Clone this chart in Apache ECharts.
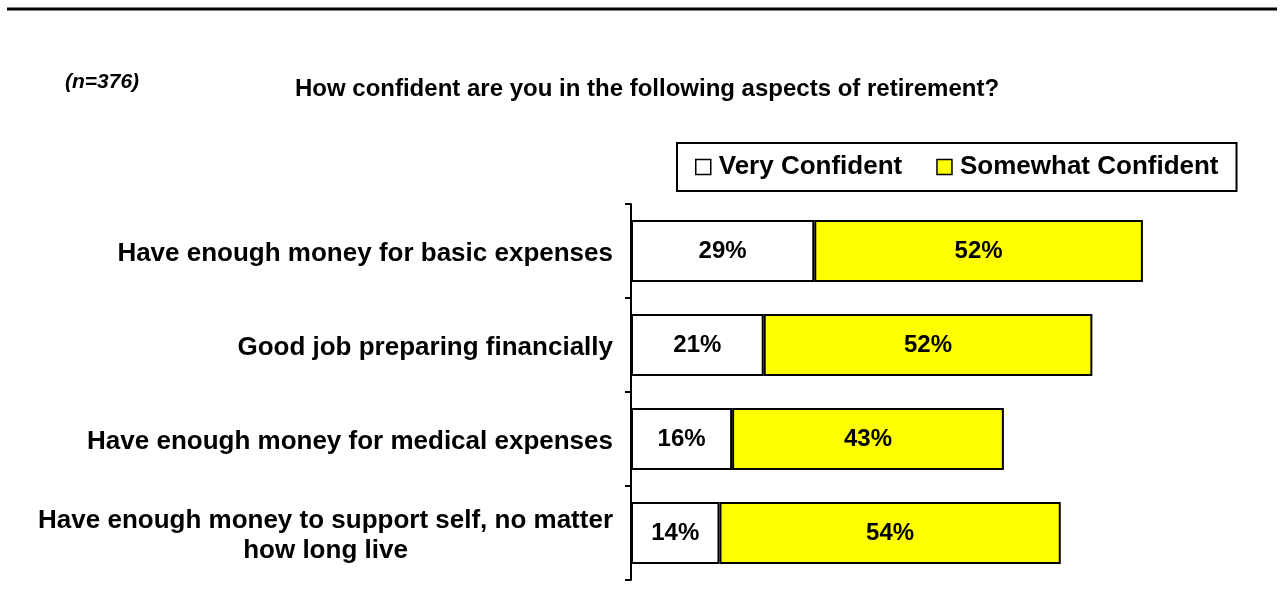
<!DOCTYPE html>
<html>
<head>
<meta charset="utf-8">
<script src="https://cdn.jsdelivr.net/npm/echarts@6/dist/echarts.min.js"></script>
<style>
  html, body { margin: 0; padding: 0; background: #fff; }
  #chart { width: 1286px; height: 615px; }
</style>
</head>
<body>
<div id="chart"></div>
<script>
// Survey question aspects, top to bottom
const categories = [
  'Have enough money for basic expenses',
  'Good job preparing financially',
  'Have enough money for medical expenses',
  'Have enough money to support self, no matter\nhow long live'
];
const seriesNames = ['Very Confident', 'Somewhat Confident'];
const veryConfident = [29, 21, 16, 14];
const somewhatConfident = [52, 52, 43, 54];

const FONT = '"Liberation Sans", Arial, Helvetica, sans-serif';

const chart = echarts.init(document.getElementById('chart'), null, { renderer: 'canvas' });

const barLabel = {
  show: true,
  position: 'inside',
  formatter: p => p.value + '%',
  color: '#000',
  fontFamily: FONT,
  fontWeight: 'bold',
  fontSize: 24
};

chart.setOption({
  backgroundColor: '#fff',
  animation: false,
  title: [
    {
      text: '(n=376)',
      left: 65,
      top: 72,
      padding: 0,
      textStyle: { fontFamily: FONT, fontStyle: 'italic', fontWeight: 'bold', fontSize: 21, color: '#000' }
    },
    {
      text: 'How confident are you in the following aspects of retirement?',
      left: 647,
      top: 77,
      padding: 0,
      textAlign: 'center',
      textStyle: { fontFamily: FONT, fontWeight: 'bold', fontSize: 24, color: '#000' }
    }
  ],
  legend: {
    data: seriesNames,
    left: 677,
    top: 143,
    orient: 'horizontal',
    padding: [11, 18, 11, 18],
    itemGap: 34,
    itemWidth: 15,
    itemHeight: 15,
    icon: 'rect',
    borderColor: '#000',
    borderWidth: 2,
    backgroundColor: '#fff',
    itemStyle: { borderColor: '#000', borderWidth: 1.5 },
    textStyle: { fontFamily: FONT, fontWeight: 'bold', fontSize: 26, color: '#000', padding: [0, 0, 0, 3] }
  },
  grid: { left: 631, right: 23, top: 204, bottom: 35, containLabel: false },
  xAxis: {
    type: 'value',
    min: 0,
    max: 100,
    show: false
  },
  yAxis: {
    type: 'category',
    data: categories,
    inverse: true,
    axisLine: { show: true, lineStyle: { color: '#000', width: 2 } },
    axisTick: { show: true, length: 6, lineStyle: { color: '#000', width: 2 } },
    splitLine: { show: false },
    axisLabel: {
      margin: 18,
      padding: [6, 0, 0, 0],
      formatter: v => v.split('\n').map(line => '{c|' + line + '}').join('\n'),
      rich: {
        c: { align: 'center', fontFamily: FONT, fontWeight: 'bold', fontSize: 26, lineHeight: 30, color: '#000' }
      }
    }
  },
  series: [
    {
      name: seriesNames[0],
      type: 'bar',
      stack: 'total',
      barWidth: '66%',
      data: veryConfident,
      itemStyle: { color: '#ffffff', borderColor: '#000', borderWidth: 2 },
      label: barLabel
    },
    {
      name: seriesNames[1],
      type: 'bar',
      stack: 'total',
      barWidth: '66%',
      data: somewhatConfident,
      itemStyle: { color: '#ffff00', borderColor: '#000', borderWidth: 2 },
      label: barLabel
    }
  ],
  graphic: [
    {
      type: 'line',
      shape: { x1: 7, y1: 9, x2: 1277, y2: 9 },
      style: { stroke: '#000', lineWidth: 3 },
      silent: true
    }
  ]
});
</script>
</body>
</html>
